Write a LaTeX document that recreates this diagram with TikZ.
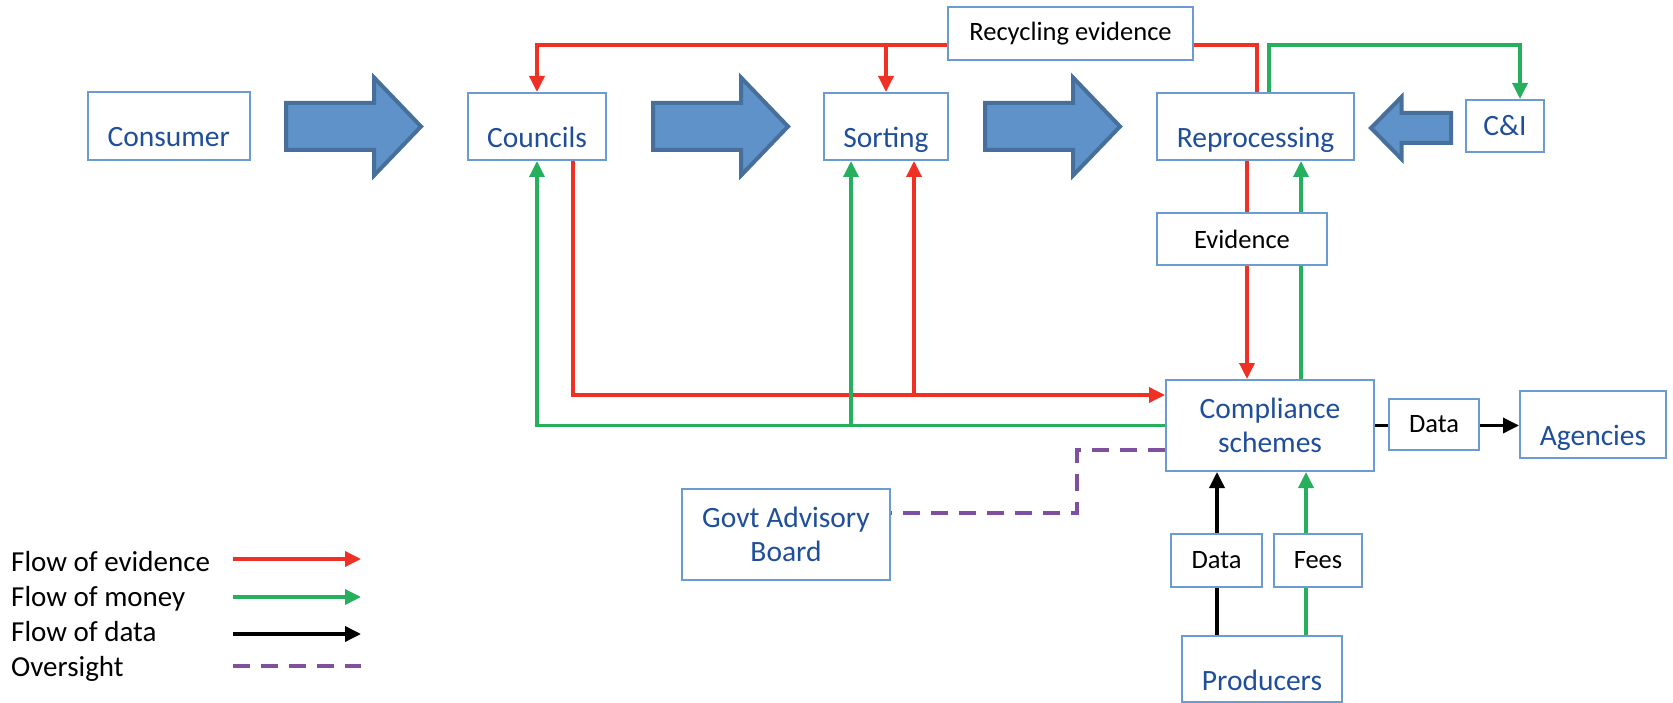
\documentclass[tikz,border=0pt]{standalone}
\usepackage{fontspec}
\setmainfont{Carlito}
\usetikzlibrary{arrows.meta,backgrounds}
\definecolor{boxline}{RGB}{108,155,210}
\definecolor{bluetext}{RGB}{31,78,155}
\definecolor{evred}{RGB}{238,49,36}
\definecolor{mogreen}{RGB}{38,176,93}
\definecolor{ovpurple}{RGB}{128,80,160}
\definecolor{blockfill}{RGB}{94,146,200}
\definecolor{blockedge}{RGB}{70,111,155}
\begin{document}
\begin{tikzpicture}[x=1pt,y=-1pt,
  box/.style 2 args={draw=boxline,line width=2pt,fill=white,inner sep=1pt,
    minimum width=#1,minimum height=#2},
  blue/.style={text=bluetext,font=\fontsize{29.5}{34}\selectfont},
  low/.style={text height=46pt,text depth=4pt},
  twoline/.style={align=center,text depth=-6pt},
  lab/.style={text=black,font=\fontsize{26.5}{30}\selectfont},
  legtext/.style={anchor=base west,inner sep=0pt,font=\fontsize{29}{34}\selectfont},
  tip/.style={-{Triangle[length=16pt,width=15pt]}},
  redline/.style={draw=evred,line width=3.5pt},
  redarrow/.style={redline,tip},
  greenarrow/.style={draw=mogreen,line width=3.5pt,tip},
  blackline/.style={draw=black,line width=3.5pt},
  blackarrow/.style={blackline,tip},
  oversight/.style={draw=ovpurple,line width=3.5pt,dash pattern=on 17pt off 11pt},
  blockarrow/.style={fill=blockfill,draw=blockedge,line width=4pt,line join=miter},
  pics/fatarrow/.style={code={
    \filldraw[blockarrow] (0,-23.5) -- (88,-23.5) -- (88,-49) -- (135,0)
      -- (88,49) -- (88,23.5) -- (0,23.5) -- cycle;}}
]
\useasboundingbox (0,0) rectangle (1673,703);

% main chain of the material flow
\node[box={161.5pt}{68pt},blue,low] (consumer) at (168.75,126) {Consumer};
\node[box={138pt}{67pt},blue,low] (councils) at (537,126.5) {Councils};
\node[box={124pt}{67pt},blue,low] (sorting) at (886,126.5) {Sorting};
\node[box={197pt}{67pt},blue,low] (reprocessing) at (1255.5,126.5) {Reprocessing};
\node[box={78.5pt}{52pt},blue] (ci) at (1505,126) {C\&I};

\pic at (286,126.5) {fatarrow};
\pic at (653,126.5) {fatarrow};
\pic at (985,126.5) {fatarrow};
\filldraw[blockarrow] (1451,113) -- (1401.5,113) -- (1401.5,97) -- (1371,128)
  -- (1401.5,159) -- (1401.5,143) -- (1451,143) -- cycle;

% labels and schemes
\node[box={245pt}{53pt},lab] (recycling) at (1070.5,33.5) {Recycling evidence};
\node[box={170pt}{52pt},lab] (evidence) at (1242,239) {Evidence};
\node[box={208pt}{91pt},blue,twoline] (compliance) at (1270,425.5) {Compliance\\schemes};
\node[box={90pt}{51pt},lab] (dataout) at (1434,424) {Data};
\node[box={146pt}{67pt},blue,low] (agencies) at (1593,424.5) {Agencies};
\node[box={208pt}{91pt},blue,twoline] (govt) at (786,534.5) {Govt Advisory\\Board};
\node[box={91pt}{53pt},lab] (datain) at (1216.5,560.5) {Data};
\node[box={88pt}{53pt},lab] (fees) at (1318,560.5) {Fees};
\node[box={160pt}{66pt},blue,low] (producers) at (1262,669) {Producers};

% connectors
\begin{scope}[on background layer]
  \coordinate (topy) at (0,45);
  \coordinate (redy) at (0,395);
  \coordinate (bend) at (1077,513);
  % recycling evidence back to councils and sorting
  \draw[redline] ([xshift=1.5pt]reprocessing.north) |- (recycling.east |- topy);
  \draw[redarrow] (recycling.west |- topy) -| (councils.north);
  \draw[redarrow] (sorting.north |- topy) -- (sorting.north);
  \draw[greenarrow] ([xshift=13.5pt]reprocessing.north) |- ([xshift=15pt]ci.north |- topy)
    -- ([xshift=15pt]ci.north);
  % evidence to the schemes, money back
  \draw[redarrow] ([xshift=36pt]councils.south) |- (compliance.west |- redy);
  \draw[redarrow] ([xshift=28pt]sorting.south |- redy) -- ([xshift=28pt]sorting.south);
  \draw[greenarrow] (compliance.west) -| (councils.south);
  \draw[greenarrow] ([xshift=-35pt]sorting.south |- compliance.west) -- ([xshift=-35pt]sorting.south);
  \draw[redarrow] ([xshift=-8.5pt]reprocessing.south) -- ([xshift=-8.5pt]reprocessing.south |- compliance.north);
  \draw[greenarrow] ([xshift=45.5pt]reprocessing.south |- compliance.north) -- ([xshift=45.5pt]reprocessing.south);
  % producers
  \draw[blackarrow] ([xshift=-45pt]producers.north) -- ([xshift=-45pt]producers.north |- compliance.south);
  \draw[greenarrow] ([xshift=44pt]producers.north) -- ([xshift=44pt]producers.north |- compliance.south);
  % data to agencies
  \draw[blackline] (compliance.east) -- (compliance.east -| dataout.west);
  \draw[blackarrow] (dataout.east |- compliance.east) -- (agencies.west |- compliance.east);
  % oversight
  \draw[oversight] ([yshift=-24.5pt]compliance.west) -| (bend) -- (govt.east |- bend);
\end{scope}

% legend
\node[legtext] (legev) at (11,571.5) {Flow of evidence};
\node[legtext] (legmo) at (11,606) {Flow of money};
\node[legtext] (legda) at (11,641) {Flow of data};
\node[legtext] (legov) at (11,676) {Oversight};
\draw[redarrow] (233,559) -- (361,559);
\draw[greenarrow] (233,597) -- (361,597);
\draw[blackarrow] (233,634) -- (361,634);
\draw[oversight] (233,666) -- (361,666);
\end{tikzpicture}
\end{document}
